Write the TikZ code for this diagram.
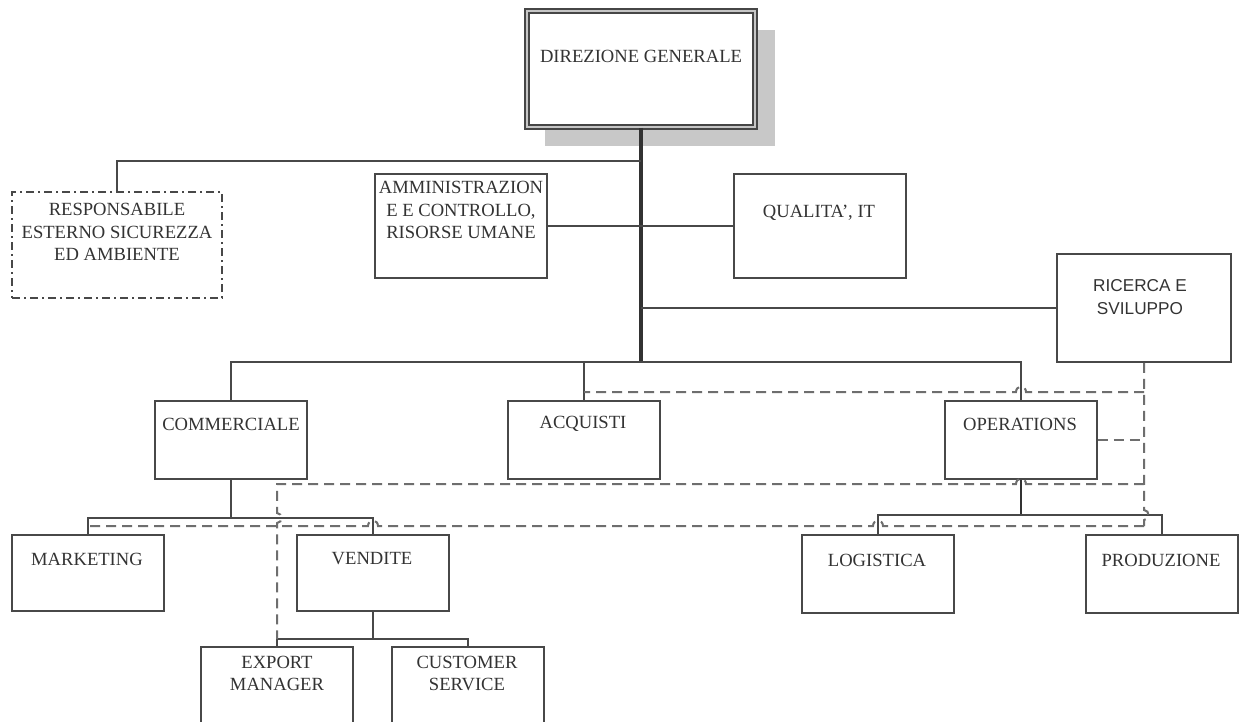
\documentclass[tikz,border=0pt]{standalone}
\usepackage{fontspec}
\setmainfont{Liberation Serif}
\newfontfamily\arialfam{Liberation Sans}
\definecolor{linec}{HTML}{484848}
\definecolor{txtc}{HTML}{333333}
\definecolor{dashc}{HTML}{6E6E6E}
\definecolor{shadowc}{HTML}{C8C8C8}
\begin{document}
\begin{tikzpicture}[x=0.5pt,y=-0.5pt,
  box/.style={draw=linec, line width=0.9pt, fill=white, inner sep=0pt},
  sz/.style 2 args={minimum width=#1*0.5pt, minimum height=#2*0.5pt},
  lbl/.style={text=txtc, font=\fontsize{9.3}{11.3}\selectfont, align=center, inner sep=0pt},
  link/.style={draw=linec, line width=0.9pt},
  trunk/.style={draw=linec!70!black, line width=1.7pt},
  rel/.style={draw=dashc, line width=1pt, dash pattern=on 5pt off 3pt},
  ext/.style={draw=linec, line width=0.9pt, dash pattern=on 4pt off 2pt on 1pt off 2pt}
]
\clip (0,0) rectangle (1241,722);
\fill[white] (0,0) rectangle (1241,722);

% top management box with its drop shadow
\fill[shadowc] (545,30) rectangle (775,146);
\node[box, sz={228}{116}, draw=gray!55!black, line width=0.9pt, double=gray!45, double distance=0.9pt] (dg) at (641,69) {};

% staff functions
\node[box, ext, sz={210}{106}] (resp) at (117,245) {};
\node[box, sz={172}{104}] (amm) at (461,226) {};
\node[box, sz={172}{104}] (qual) at (820,226) {};
\node[box, sz={174}{108}] (ric) at (1144,308) {};

% line departments
\node[box, sz={152}{78}] (comm) at (231,440) {};
\node[box, sz={152}{78}] (acq) at (584,440) {};
\node[box, sz={152}{78}] (ops) at (1021,440) {};

% sub-units
\node[box, sz={152}{76}] (mkt) at (88,573) {};
\node[box, sz={152}{76}] (ven) at (373,573) {};
\node[box, sz={152}{78}] (log) at (878,574) {};
\node[box, sz={152}{78}] (prod) at (1162,574) {};
\node[box, sz={152}{90}] (exp) at (277,692) {};
\node[box, sz={152}{90}] (cust) at (468,692) {};

% labels
\node[lbl] (dgt) at (641,56) {DIREZIONE GENERALE};
\node[lbl] (respt) at (117,232) {RESPONSABILE\\ESTERNO SICUREZZA\\ED AMBIENTE};
\node[lbl] (ammt) at (461,210) {AMMINISTRAZION\\E E CONTROLLO,\\RISORSE UMANE};
\node[lbl] (qualt) at (819,213) {QUALITA', IT};
\node[lbl, font=\arialfam\fontsize{8.6}{11.3}\selectfont] (rict) at (1140,297) {RICERCA E\\SVILUPPO};
\node[lbl] (commt) at (231,424) {COMMERCIALE};
\node[lbl] (acqt) at (583,424) {ACQUISTI};
\node[lbl] (opst) at (1020,424) {OPERATIONS};
\node[lbl] (mktt) at (87,559) {MARKETING};
\node[lbl] (vent) at (372,559) {VENDITE};
\node[lbl] (logt) at (877,560) {LOGISTICA};
\node[lbl] (prodt) at (1161,560) {PRODUZIONE};
\node[lbl] (expt) at (277,673.5) {EXPORT\\MANAGER};
\node[lbl] (custt) at (467,673.5) {CUSTOMER\\SERVICE};

% junction points of the reporting lines
\coordinate (tA) at (641,161);
\coordinate (tB) at (641,308);
\coordinate (tC) at (641,362);
\coordinate (cJ) at (231,518);
\coordinate (vJ) at (373,639);
\coordinate (oJ) at (1021,515);

% solid reporting lines
\draw[trunk] (dg.south) -- (tC);
\draw[link] (tA) -| (resp.north);
\draw[link] (amm.east) -- (qual.west);
\draw[link] (tB) -- (ric.west);
\draw[link] (comm.north) |- (tC) -| (ops.north);
\draw[link] (acq.north) |- (tC);
\draw[link] (comm.south) -- (cJ);
\draw[link] (mkt.north) |- (cJ) -| (ven.north);
\draw[link] (ven.south) -- (vJ);
\draw[link] (exp.north) |- (vJ) -| (cust.north);
\draw[trunk, line width=1.4pt] (ops.south) -- (oJ);
\draw[link] (log.north) |- (oJ) -| (prod.north);

% dashed functional lines from research and development
\coordinate (r1) at (1144,392);
\coordinate (r2) at (1144,440);
\coordinate (r3) at (1144,484);
\coordinate (r4) at (1144,526);
\coordinate (a1) at (584,392);
\coordinate (m1) at (88,526);
\coordinate (e1) at (277,639);

\draw[rel] (ric.south) -- (1144,510) .. controls (1150,510) and (1150,520) .. (1144,520) -- (r4);
\draw[rel] (r1) -- (1026,392) .. controls (1026,385) and (1016,385) .. (1016,392) -- (a1);
\draw[rel] (ops.east) -- (r2);
\draw[rel] (r3) -- (1026,484) .. controls (1026,477) and (1016,477) .. (1016,484) -- (277,484)
  -- (277,513) .. controls (283,513) and (283,523) .. (277,523) -- (e1);
\draw[rel] (r4) -- (883,526) .. controls (883,519) and (873,519) .. (873,526)
  -- (378,526) .. controls (378,519) and (368,519) .. (368,526) -- (m1);
\end{tikzpicture}
\end{document}
